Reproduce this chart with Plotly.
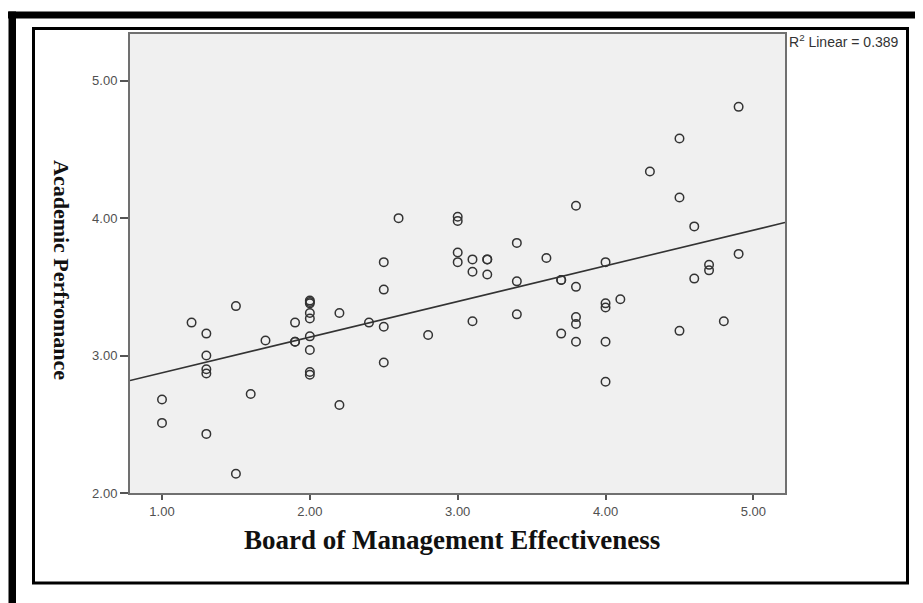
import numpy as np
import plotly.graph_objects as go

# ---- data ----
board_effectiveness = [
    1.0, 1.0,
    1.2,
    1.3, 1.3, 1.3, 1.3, 1.3,
    1.5, 1.5,
    1.6,
    1.7,
    1.9, 1.9, 1.9,
    2.0, 2.0, 2.0, 2.0, 2.0, 2.0, 2.0, 2.0, 2.0,
    2.2, 2.2,
    2.4,
    2.5, 2.5, 2.5, 2.5,
    2.6,
    2.8,
    3.0, 3.0, 3.0, 3.0,
    3.1, 3.1, 3.1,
    3.2, 3.2, 3.2,
    3.4, 3.4, 3.4,
    3.6,
    3.7, 3.7, 3.7,
    3.8, 3.8, 3.8, 3.8, 3.8,
    4.0, 4.0, 4.0, 4.0, 4.0,
    4.1,
    4.3,
    4.5, 4.5, 4.5,
    4.6, 4.6,
    4.7, 4.7,
    4.8,
    4.9, 4.9,
]
academic_performance = [
    2.68, 2.51,
    3.24,
    3.16, 3.00, 2.90, 2.87, 2.43,
    3.36, 2.14,
    2.72,
    3.11,
    3.24, 3.10, 3.10,
    3.40, 3.39, 3.38, 3.31, 3.27, 3.14, 3.04, 2.88, 2.86,
    3.31, 2.64,
    3.24,
    3.68, 3.48, 3.21, 2.95,
    4.00,
    3.15,
    4.01, 3.98, 3.75, 3.68,
    3.70, 3.61, 3.25,
    3.70, 3.70, 3.59,
    3.82, 3.54, 3.30,
    3.71,
    3.55, 3.55, 3.16,
    4.09, 3.50, 3.28, 3.23, 3.10,
    3.68, 3.38, 3.35, 3.10, 2.81,
    3.41,
    4.34,
    4.58, 4.15, 3.18,
    3.94, 3.56,
    3.66, 3.62,
    3.25,
    4.81, 3.74,
]
x_tick_values = [1.0, 2.0, 3.0, 4.0, 5.0]
x_tick_labels = ["1.00", "2.00", "3.00", "4.00", "5.00"]
y_tick_values = [2.0, 3.0, 4.0, 5.0]
y_tick_labels = ["2.00", "3.00", "4.00", "5.00"]
r2_label = "R<sup>2</sup> Linear = 0.389"
x_title = "Board of Management Effectiveness"
y_title = "Academic Perfromance"

X_RANGE = [0.7836, 5.2137]
Y_RANGE = [2.0, 5.34]

# ---- figure geometry (pixels); page body has an 8px default margin ----
OFF = 8
W, H = 923 - OFF, 603 - OFF
L, T = 130 - OFF, 34 - OFF
R = W - (785 - OFF)
B = H - (493 - OFF)
PW, PH = W - L - R, H - T - B


def px(xp):
    """window pixel x -> paper coordinate"""
    return (xp - OFF - L) / PW


def py(yp):
    """window pixel y -> paper coordinate"""
    return (H - B - (yp - OFF)) / PH


# linear fit computed from the data
slope, intercept = np.polyfit(board_effectiveness, academic_performance, 1)
fit_x = np.array(X_RANGE)
fit_y = intercept + slope * fit_x

fig = go.Figure()
fig.add_trace(go.Scatter(
    x=board_effectiveness, y=academic_performance, mode="markers",
    marker=dict(symbol="circle-open", size=8.5, color="#333333",
                line=dict(width=1.5, color="#333333")),
    showlegend=False, hoverinfo="x+y",
))
fig.add_trace(go.Scatter(
    x=fit_x, y=fit_y, mode="lines",
    line=dict(color="#333333", width=1.6),
    showlegend=False, hoverinfo="skip",
))

axis_common = dict(
    showgrid=False, zeroline=False, showline=True, mirror=True,
    linecolor="#707070", linewidth=2,
    ticks="outside", tickcolor="#555555", tickwidth=1.5,
    tickfont=dict(family="Liberation Sans, Arial, sans-serif", size=13, color="#505050"),
)
fig.update_xaxes(range=X_RANGE, tickmode="array", tickvals=x_tick_values,
                 ticktext=x_tick_labels, ticklen=5, **axis_common)
fig.update_yaxes(range=Y_RANGE, tickmode="array", tickvals=y_tick_values,
                 ticktext=y_tick_labels, ticklen=8, **axis_common)

shapes = [
    # outer thick black border (top and left bands)
    dict(type="rect", xref="paper", yref="paper",
         x0=px(8), x1=px(930), y0=py(18.5), y1=py(11.5),
         fillcolor="black", line=dict(width=0), layer="above"),
    dict(type="rect", xref="paper", yref="paper",
         x0=px(8.5), x1=px(16), y0=py(610), y1=py(11.5),
         fillcolor="black", line=dict(width=0), layer="above"),
    # inner frame
    dict(type="rect", xref="paper", yref="paper",
         x0=px(33.5), x1=px(907.5), y0=py(583), y1=py(28.5),
         line=dict(color="black", width=3), fillcolor="rgba(0,0,0,0)", layer="above"),
]

annotations = [
    dict(text=r2_label, xref="paper", yref="paper", x=px(787), y=py(41),
         xanchor="left", yanchor="middle", showarrow=False,
         font=dict(family="Liberation Sans, Arial, sans-serif", size=14, color="#333333")),
    dict(text="<b>" + x_title + "</b>", xref="paper", yref="paper",
         x=px(452), y=py(540), xanchor="center", yanchor="middle", showarrow=False,
         font=dict(family="Liberation Serif, Times New Roman, serif", size=27, color="#111111")),
    dict(text="<b>" + y_title + "</b>", xref="paper", yref="paper",
         x=px(62), y=py(270), xanchor="center", yanchor="middle", showarrow=False,
         textangle=90,
         font=dict(family="Liberation Serif, Times New Roman, serif", size=22, color="#111111")),
]

fig.update_layout(
    width=W, height=H,
    margin=dict(l=L, r=R, t=T, b=B, pad=0),
    paper_bgcolor="white", plot_bgcolor="#f0f0f0",
    shapes=shapes, annotations=annotations,
    showlegend=False,
)

fig.write_html("out.html")
